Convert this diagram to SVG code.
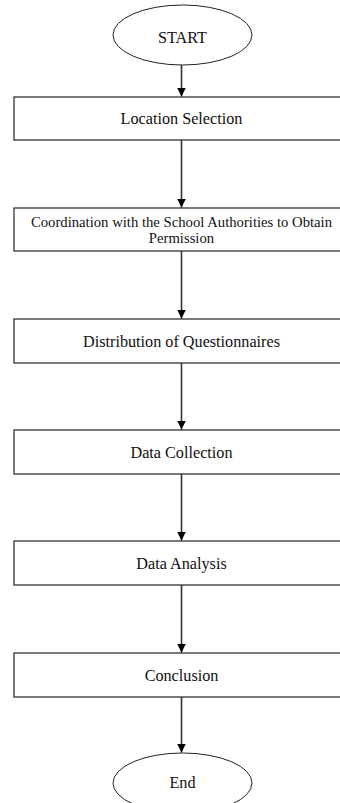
<svg xmlns="http://www.w3.org/2000/svg" width="340" height="803" viewBox="0 0 340 803">
<style>
.box{fill:#fff;stroke:#222;stroke-width:1.2}
.term{fill:#fff;stroke:#222;stroke-width:1}
.lbl{font-family:"Liberation Serif","Times New Roman",serif;font-size:16.2px;fill:#111;text-anchor:middle}
.sm{font-size:14.7px}
.edge{stroke:#333;stroke-width:1.6;fill:none}
</style>
<defs>
<marker id="ah" markerUnits="userSpaceOnUse" markerWidth="10" markerHeight="10" refX="9" refY="4.5" orient="auto">
<path d="M0,0 L9,4.5 L0,9 Z" fill="#000"/>
</marker>
</defs>
<rect width="340" height="803" fill="#fff"/>
<g id="connectors">
<line class="edge" x1="181.5" y1="65" x2="181.5" y2="96.5" marker-end="url(#ah)"/>
<line class="edge" x1="181.5" y1="140" x2="181.5" y2="207.5" marker-end="url(#ah)"/>
<line class="edge" x1="181.5" y1="251" x2="181.5" y2="318.5" marker-end="url(#ah)"/>
<line class="edge" x1="181.5" y1="363" x2="181.5" y2="429.5" marker-end="url(#ah)"/>
<line class="edge" x1="181.5" y1="474" x2="181.5" y2="540.5" marker-end="url(#ah)"/>
<line class="edge" x1="181.5" y1="585" x2="181.5" y2="652.5" marker-end="url(#ah)"/>
<line class="edge" x1="181.5" y1="697" x2="181.5" y2="752.5" marker-end="url(#ah)"/>
</g>
<g id="start">
<ellipse class="term" cx="182.5" cy="35" rx="69.5" ry="30"/>
<text class="lbl" x="182.5" y="43">START</text>
</g>
<g id="location">
<rect class="box" x="14" y="97" width="336" height="43"/>
<text class="lbl" x="181.5" y="124">Location Selection</text>
</g>
<g id="coordination">
<rect class="box" x="14" y="208" width="336" height="43"/>
<text class="lbl sm" x="181.5" y="227">Coordination with the School Authorities to Obtain</text>
<text class="lbl sm" x="181.5" y="242.5">Permission</text>
</g>
<g id="distribution">
<rect class="box" x="14" y="319" width="336" height="44"/>
<text class="lbl" x="181.5" y="346.5">Distribution of Questionnaires</text>
</g>
<g id="collection">
<rect class="box" x="14" y="430" width="336" height="44"/>
<text class="lbl" x="181.5" y="458">Data Collection</text>
</g>
<g id="analysis">
<rect class="box" x="14" y="541" width="336" height="44"/>
<text class="lbl" x="181.5" y="569">Data Analysis</text>
</g>
<g id="conclusion">
<rect class="box" x="14" y="653" width="336" height="44"/>
<text class="lbl" x="181.5" y="680.5">Conclusion</text>
</g>
<g id="end">
<ellipse class="term" cx="182.5" cy="783" rx="69.5" ry="30"/>
<text class="lbl" x="182.5" y="788">End</text>
</g>
</svg>
